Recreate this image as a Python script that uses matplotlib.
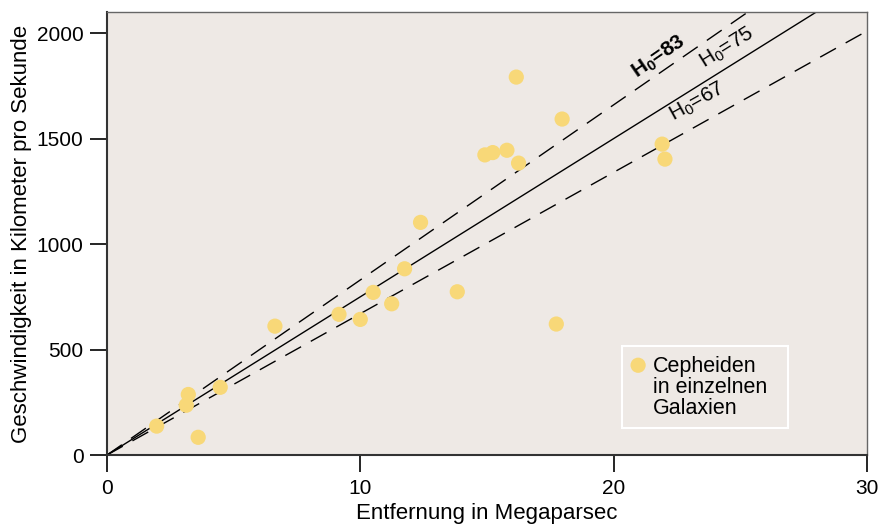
import numpy as np
import matplotlib
matplotlib.use("Agg")
import matplotlib.pyplot as plt

plt.rcParams['font.family'] = ['Liberation Sans', 'DejaVu Sans']
plt.rcParams['mathtext.fontset'] = 'custom'
plt.rcParams['mathtext.rm'] = 'Liberation Sans'
plt.rcParams['mathtext.bf'] = 'Liberation Sans:bold'

# Cepheiden-Messungen (Entfernung in Mpc, Geschwindigkeit in km/s)
dist = [1.96, 3.13, 3.21, 3.6, 4.47, 6.63, 9.16, 10.0, 10.51, 11.24, 11.75,
        12.38, 13.83, 14.92, 15.23, 15.79, 16.16, 16.25, 17.74, 17.97, 21.92, 22.03]
vel = [137, 236, 287, 84, 321, 611, 667, 643, 771, 717, 883,
       1103, 774, 1423, 1434, 1445, 1792, 1384, 621, 1593, 1474, 1403]

hubble = [83, 75, 67]
hubble_style = ['dashed', 'solid', 'dashed']
label_pos = [(21.8, 1885), (24.5, 1930), (23.3, 1675)]
label_bold = [True, False, False]

bg = '#EEE9E5'
dot = '#F8D878'

fig = plt.figure(figsize=(8.8, 5.27), dpi=100)
ax = fig.add_axes([0.1216, 0.1366, 0.8634, 0.8404])
ax.set_facecolor(bg)

xs = np.array([0, 30])
for h, st in zip(hubble, hubble_style):
    if st == 'solid':
        ax.plot(xs, h * xs, color='black', lw=1.0, zorder=2)
    else:
        ax.plot(xs, h * xs, color='black', lw=1.0, dashes=(13, 8), zorder=2)

ax.scatter(dist, vel, s=120, color=dot, edgecolors='none', zorder=3)

ax.set_xlim(0, 30)
ax.set_ylim(0, 2100)

# Beschriftung der Geraden, entlang der Steigung gedreht
for h, (lx, ly), b in zip(hubble, label_pos, label_bold):
    p1 = ax.transData.transform((0, 0))
    p2 = ax.transData.transform((10, 10 * h))
    ang = np.degrees(np.arctan2(p2[1] - p1[1], p2[0] - p1[0]))
    if b:
        s = r'$\mathbf{H_0}$=%d' % h
    else:
        s = r'$\mathregular{H_0}$=%d' % h
    ax.text(lx, ly, s, rotation=ang, rotation_mode='anchor',
            ha='center', va='center', fontsize=15,
            fontweight='bold' if b else 'normal')

ax.set_xticks([0, 10, 20, 30])
ax.set_yticks([0, 500, 1000, 1500, 2000])
ax.tick_params(direction='out', length=12, width=1.2, labelsize=15, pad=5)
ax.set_xlabel('Entfernung in Megaparsec', fontsize=16, labelpad=4)
ax.set_ylabel('Geschwindigkeit in Kilometer pro Sekunde', fontsize=16, labelpad=3)

for s in ['left', 'bottom']:
    ax.spines[s].set_linewidth(1.5)
    ax.spines[s].set_color('#333333')
for s in ['top', 'right']:
    ax.spines[s].set_linewidth(1.0)
    ax.spines[s].set_color('#666666')

# Legende von Hand: Rahmen, Punkt, Text
ax.add_patch(plt.Rectangle((0.678, 0.061), 0.218, 0.185, transform=ax.transAxes,
                           facecolor=bg, edgecolor='white', lw=1.5, zorder=4))
ax.scatter([0.699], [0.2027], s=120, color=dot, edgecolors='none',
           transform=ax.transAxes, zorder=5)
ax.text(0.7184, 0.224, 'Cepheiden\nin einzelnen\nGalaxien', transform=ax.transAxes,
        ha='left', va='top', fontsize=15.5, linespacing=1.0, zorder=5)

plt.savefig('out.png', dpi=100, facecolor='white')
